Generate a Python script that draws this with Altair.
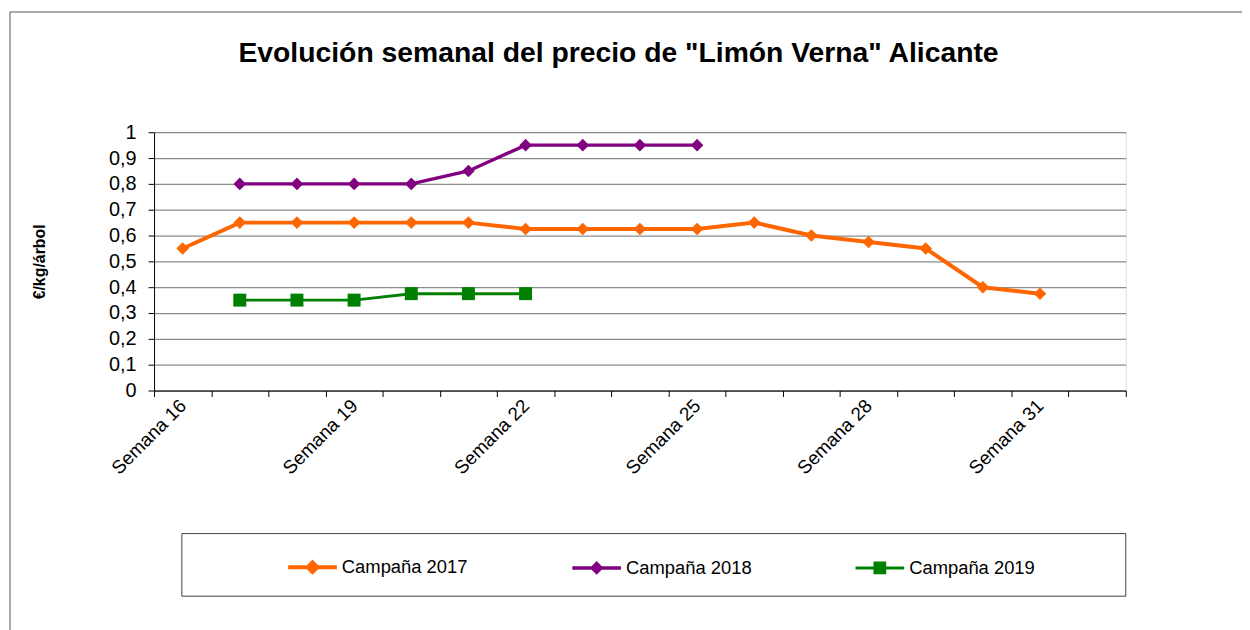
import altair as alt
import pandas as pd

weeks = ["Semana 16", "Semana 17", "Semana 18", "Semana 19", "Semana 20", "Semana 21",
         "Semana 22", "Semana 23", "Semana 24", "Semana 25", "Semana 26", "Semana 27",
         "Semana 28", "Semana 29", "Semana 30", "Semana 31", "Semana 32"]
shown_labels = ["Semana 16", "Semana 19", "Semana 22", "Semana 25", "Semana 28", "Semana 31"]
series = ["Campaña 2017", "Campaña 2018", "Campaña 2019"]
colors = ["#FF6600", "#800080", "#008000"]
line_widths = [4, 3, 3]

c2017 = [0.55, 0.65, 0.65, 0.65, 0.65, 0.65, 0.625, 0.625, 0.625, 0.625, 0.65, 0.60,
         0.575, 0.55, 0.40, 0.375, None]
c2018 = [None, 0.80, 0.80, 0.80, 0.80, 0.85, 0.95, 0.95, 0.95, 0.95, None, None,
         None, None, None, None, None]
c2019 = [None, 0.35, 0.35, 0.35, 0.375, 0.375, 0.375, None, None, None, None, None,
         None, None, None, None, None]
y_ticks = [0, 0.1, 0.2, 0.3, 0.4, 0.5, 0.6, 0.7, 0.8, 0.9, 1.0]

rows = []
for s, vals in zip(series, [c2017, c2018, c2019]):
    for w, v in zip(weeks, vals):
        if v is not None:
            rows.append({"semana": w, "serie": s, "precio": v})
df = pd.DataFrame(rows)

FONT = "Liberation Sans"

# legend symbols: a line segment with the marker in the middle
legend_paths = [
    "M-1,0H1M0,-0.2L0.2,0L0,0.2L-0.2,0Z",
    "M-1,0H1M0,-0.18L0.18,0L0,0.18L-0.18,0Z",
    "M-1,0H1M-0.2,-0.2H0.2V0.2H-0.2Z",
]

color_scale = alt.Scale(domain=series, range=colors)
legend = alt.Legend(
    title=None, orient="none", legendX=133, legendY=411, direction="horizontal",
    columns=3, columnPadding=98, symbolSize=2401, symbolStrokeWidth=3,
    labelFont=FONT, labelFontSize=18.5, labelColor="black", labelOffset=3, padding=0,
    symbolOpacity=1,
)

x_enc = alt.X(
    "semana:O",
    scale=alt.Scale(domain=weeks, type="band", paddingInner=0, paddingOuter=0),
    axis=alt.Axis(
        title=None, tickBand="extent", labelAngle=315, labelAlign="right",
        labelBaseline="middle", labelOverlap=False, labelPadding=6,
        labelExpr="indexof(" + str(shown_labels) + ", datum.value) >= 0 ? datum.value : ''",
        tickSize=6, tickColor="black", domainColor="black", grid=False,
        labelFont=FONT, labelFontSize=19, labelColor="black",
    ),
)
y_enc = alt.Y(
    "precio:Q",
    scale=alt.Scale(domain=[0, 1], nice=False),
    axis=alt.Axis(
        title="€/kg/árbol", values=y_ticks,
        labelExpr="replace(format(datum.value, '.1~f'), '.', ',')",
        grid=True, gridColor="#8c8c8c", gridWidth=1.2, tickSize=6, tickColor="black",
        domainColor="black", labelFont=FONT, labelFontSize=20, labelColor="black",
        labelPadding=12, titleFont=FONT, titleFontSize=16, titleFontWeight="bold",
        titleColor="black", titleAngle=270, titleX=-115, titleY=130,
        titleAlign="center", titleBaseline="middle",
    ),
)

legend_layer = alt.Chart(df).transform_filter("false").mark_point(
    filled=True, opacity=1
).encode(
    color=alt.Color("serie:N", scale=color_scale, legend=legend),
    shape=alt.Shape("serie:N", scale=alt.Scale(domain=series, range=legend_paths), legend=legend),
)

lines = alt.Chart(df).mark_line().encode(
    x=x_enc, y=y_enc,
    color=alt.Color("serie:N", scale=color_scale, legend=legend),
    strokeWidth=alt.StrokeWidth("serie:N", scale=alt.Scale(domain=series, range=line_widths), legend=None),
    detail="serie:N",
)

diamonds = alt.Chart(df).transform_filter(
    alt.FieldOneOfPredicate(field="serie", oneOf=series[:2])
).mark_point(filled=True, opacity=1, shape="diamond", size=160).encode(
    x=x_enc, y=y_enc,
    color=alt.Color("serie:N", scale=color_scale, legend=legend),
)

squares = alt.Chart(df).transform_filter(
    alt.FieldOneOfPredicate(field="serie", oneOf=series[2:])
).mark_point(filled=True, opacity=1, shape="square", size=170).encode(
    x=x_enc, y=y_enc,
    color=alt.Color("serie:N", scale=color_scale, legend=legend),
)

one = pd.DataFrame({"k": [0]})
legend_box = alt.Chart(one).mark_rect(fillOpacity=0, stroke="#404040", strokeWidth=1).encode(
    x=alt.value(28), x2=alt.value(978), y=alt.value(404), y2=alt.value(467)
)
outer_frame = alt.Chart(one).mark_rect(fillOpacity=0, stroke="#555555", strokeWidth=1).encode(
    x=alt.value(-145), x2=alt.value(1110), y=alt.value(-121), y2=alt.value(510)
)

chart = alt.layer(
    outer_frame, legend_box, legend_layer, lines, diamonds, squares
).properties(
    width=978, height=260,
    title=alt.TitleParams(
        'Evolución semanal del precio de "Limón Verna" Alicante',
        font=FONT, fontSize=28.5, fontWeight="bold", color="black",
        anchor="middle", frame="group", baseline="alphabetic", offset=-79, dx=-21.5,
    ),
    autosize=alt.AutoSizeParams(type="none"),
    padding={"left": 147, "top": 123, "right": 117, "bottom": 239},
).configure_view(strokeWidth=0).configure(background="white")

chart.save("out.html", embed_options={"renderer": "svg", "actions": False})
